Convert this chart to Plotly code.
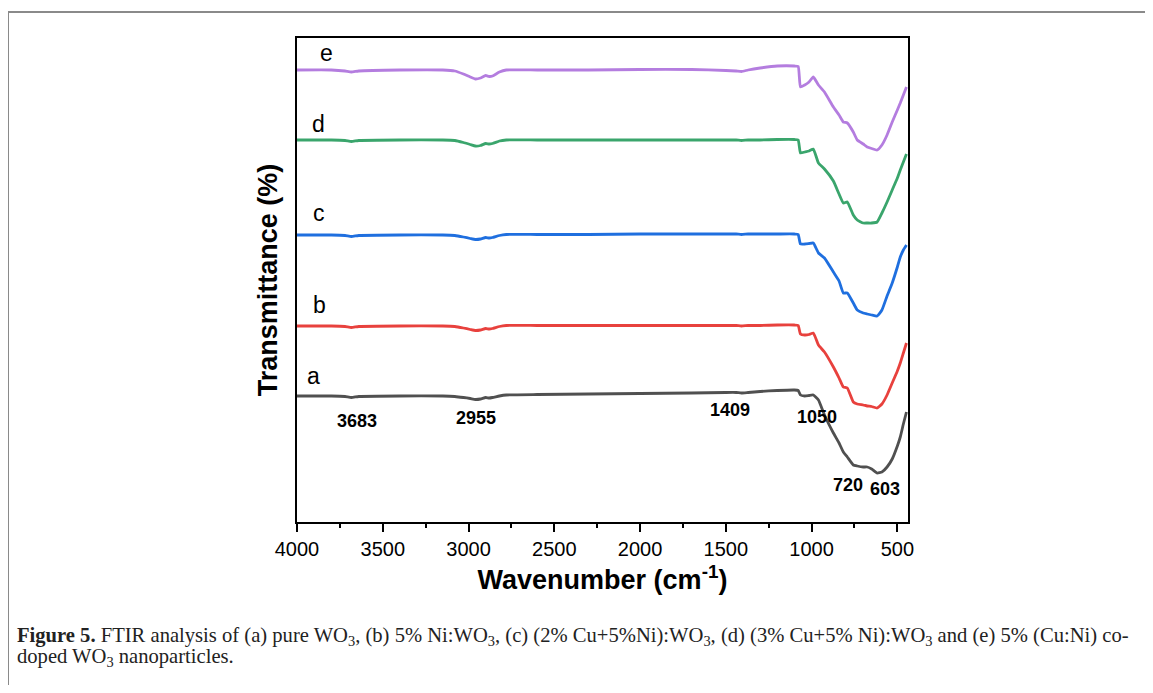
import plotly.graph_objects as go

# Wavenumber grid (cm^-1)
wavenumber = [4000, 3800, 3720, 3683, 3640, 3400, 3150, 3080, 3030, 2990, 2960, 2930, 2900, 2880,
              2860, 2820, 2780, 2600, 2300, 2000, 1700, 1500, 1440, 1409, 1370, 1300, 1200, 1100,
              1078, 1065, 1040, 1015, 990, 960, 925, 873, 840, 815, 792, 757, 734, 699, 676, 650,
              618, 590, 560, 530, 500, 483, 465, 447]

# Transmittance (a.u., stacked)
trans_a = [126, 126, 125.5, 124.5, 125.5, 126, 126, 125.5, 124.5, 123.5, 122.5, 123, 124.5, 124,
           124.5, 126, 127, 127.5, 128, 128.5, 129, 129.5, 129.5, 129, 129.5, 130.5, 131.5, 132,
           131.5, 127, 126, 126.5, 127, 122, 107, 89, 79, 70, 65, 57, 56, 55, 55, 53,
           49, 50, 55, 63, 76, 85, 98, 110]
trans_b = [196, 196, 195.5, 194.5, 195.5, 196, 196, 195.5, 194, 192.5, 191.5, 192, 193.5, 193,
           193.5, 195.5, 196.5, 196.5, 196.5, 196.5, 196.5, 196.5, 196.5, 196, 196.5, 196.5, 197, 197,
           196.5, 188, 187, 187.5, 189, 177, 170, 155, 144, 135, 134, 120, 118, 117, 116, 115.5,
           114, 118, 127, 139, 151, 159, 169, 179]
trans_c = [287, 287, 286.5, 285.5, 286.5, 287, 287, 286.5, 285, 283.5, 282.5, 283, 284.5, 284,
           284.5, 286.5, 287.5, 287.5, 287.5, 288, 288, 288, 288, 287.5, 288, 288, 288, 288,
           287.5, 278, 278, 278.5, 279, 269, 264, 250, 241, 229, 229, 219, 212, 209, 208, 207,
           206, 212, 226, 239, 255, 265, 272, 277]
trans_d = [382, 382, 381.5, 380.5, 381.5, 382, 382, 381.5, 379.5, 377.5, 376, 376.5, 378.5, 378,
           378.5, 381, 382, 382, 382, 382, 382, 382, 382, 381.5, 382, 382, 382.5, 382.5,
           382, 369, 370, 371, 373, 359, 353, 341, 328, 319, 320, 307, 302, 299, 299, 299,
           300, 309, 320, 332, 344, 352, 360, 368]
trans_e = [452, 452, 451, 450, 451, 452, 452, 451, 448, 445, 443, 444, 446.5, 445.5,
           446, 450, 452, 452, 452, 452.5, 452.5, 451.5, 451, 450.5, 452, 454, 456, 456,
           455.5, 435, 437, 440, 445, 437, 430, 415, 407, 400, 399, 390, 382, 378, 375, 373.5,
           372, 377, 387, 400, 412, 419, 427, 435]

series = [("a", trans_a, "#505050"), ("b", trans_b, "#e8413d"), ("c", trans_c, "#1f6fdf"),
          ("d", trans_d, "#3aa56c"), ("e", trans_e, "#b47ddf")]

label_pos_x = [3905, 3870, 3870, 3875, 3830]
label_pos_y = [146, 217, 309, 398, 469]

peak_labels = ["3683", "2955", "1409", "1050", "720", "603"]
peak_x = [3652, 2955, 1475, 967, 785, 575]
peak_y = [101, 104, 112, 105, 37, 33]

SANS = "Liberation Sans, Arial"

fig = go.Figure()
for name, vals, col in series:
    fig.add_trace(go.Scatter(x=wavenumber, y=vals, mode="lines", name=name,
                             line=dict(color=col, width=2.8, shape="spline", smoothing=0.4),
                             showlegend=False))

for (name, _, _), lx, ly in zip(series, label_pos_x, label_pos_y):
    fig.add_annotation(x=lx, y=ly, text=name, showarrow=False,
                       font=dict(family=SANS, size=23, color="black"))

for t, px, py in zip(peak_labels, peak_x, peak_y):
    fig.add_annotation(x=px, y=py, text=f"<b>{t}</b>", showarrow=False,
                       font=dict(family=SANS, size=18, color="black"))

fig.update_xaxes(range=[4000, 438], showline=True, linecolor="black", linewidth=2, mirror=True,
                 ticks="outside", ticklen=8, tickwidth=1.5, tickcolor="black",
                 tickvals=[4000, 3500, 3000, 2500, 2000, 1500, 1000, 500],
                 minor=dict(ticks="outside", ticklen=4, tickwidth=1.5, tickcolor="black", dtick=250),
                 showgrid=False, zeroline=False,
                 tickfont=dict(family=SANS, size=20, color="black"),
                 title=dict(text="<b>Wavenumber (cm<sup>-1</sup>)</b>", standoff=11,
                            font=dict(family=SANS, size=27, color="black")))
fig.update_yaxes(range=[0, 484], showline=True, linecolor="black", linewidth=2, mirror=True,
                 ticks="", showticklabels=False, showgrid=False, zeroline=False,
                 title=dict(text="<b>Transmittance (%)</b>", standoff=10,
                            font=dict(family=SANS, size=27, color="black")))

# outer figure border
fig.add_shape(type="rect", xref="paper", yref="paper", x0=-0.473, y0=-0.36, x1=1.41, y1=1.0537,
              line=dict(color="#8a8a8a", width=2), layer="below")

CAP = dict(family="Liberation Serif, Times New Roman", size=20.6, color="#222")
fig.add_annotation(xref="paper", yref="paper", x=-0.461, y=-0.2365, xanchor="left", yanchor="middle",
                   align="left", showarrow=False, font=CAP,
                   text=("<b>Figure 5.</b> FTIR analysis of (a) pure WO<sub>3</sub>, (b) 5% Ni:WO<sub>3</sub>, "
                         "(c) (2% Cu+5%Ni):WO<sub>3</sub>, (d) (3% Cu+5% Ni):WO<sub>3</sub> and (e) 5% (Cu:Ni) co-"))
fig.add_annotation(xref="paper", yref="paper", x=-0.461, y=-0.279, xanchor="left", yanchor="middle",
                   align="left", showarrow=False, font=CAP,
                   text="doped WO<sub>3</sub> nanoparticles.")

fig.update_layout(width=1137, height=677, plot_bgcolor="white", paper_bgcolor="white",
                  margin=dict(l=289, r=237, t=30, b=163))

fig.write_html("out.html")
